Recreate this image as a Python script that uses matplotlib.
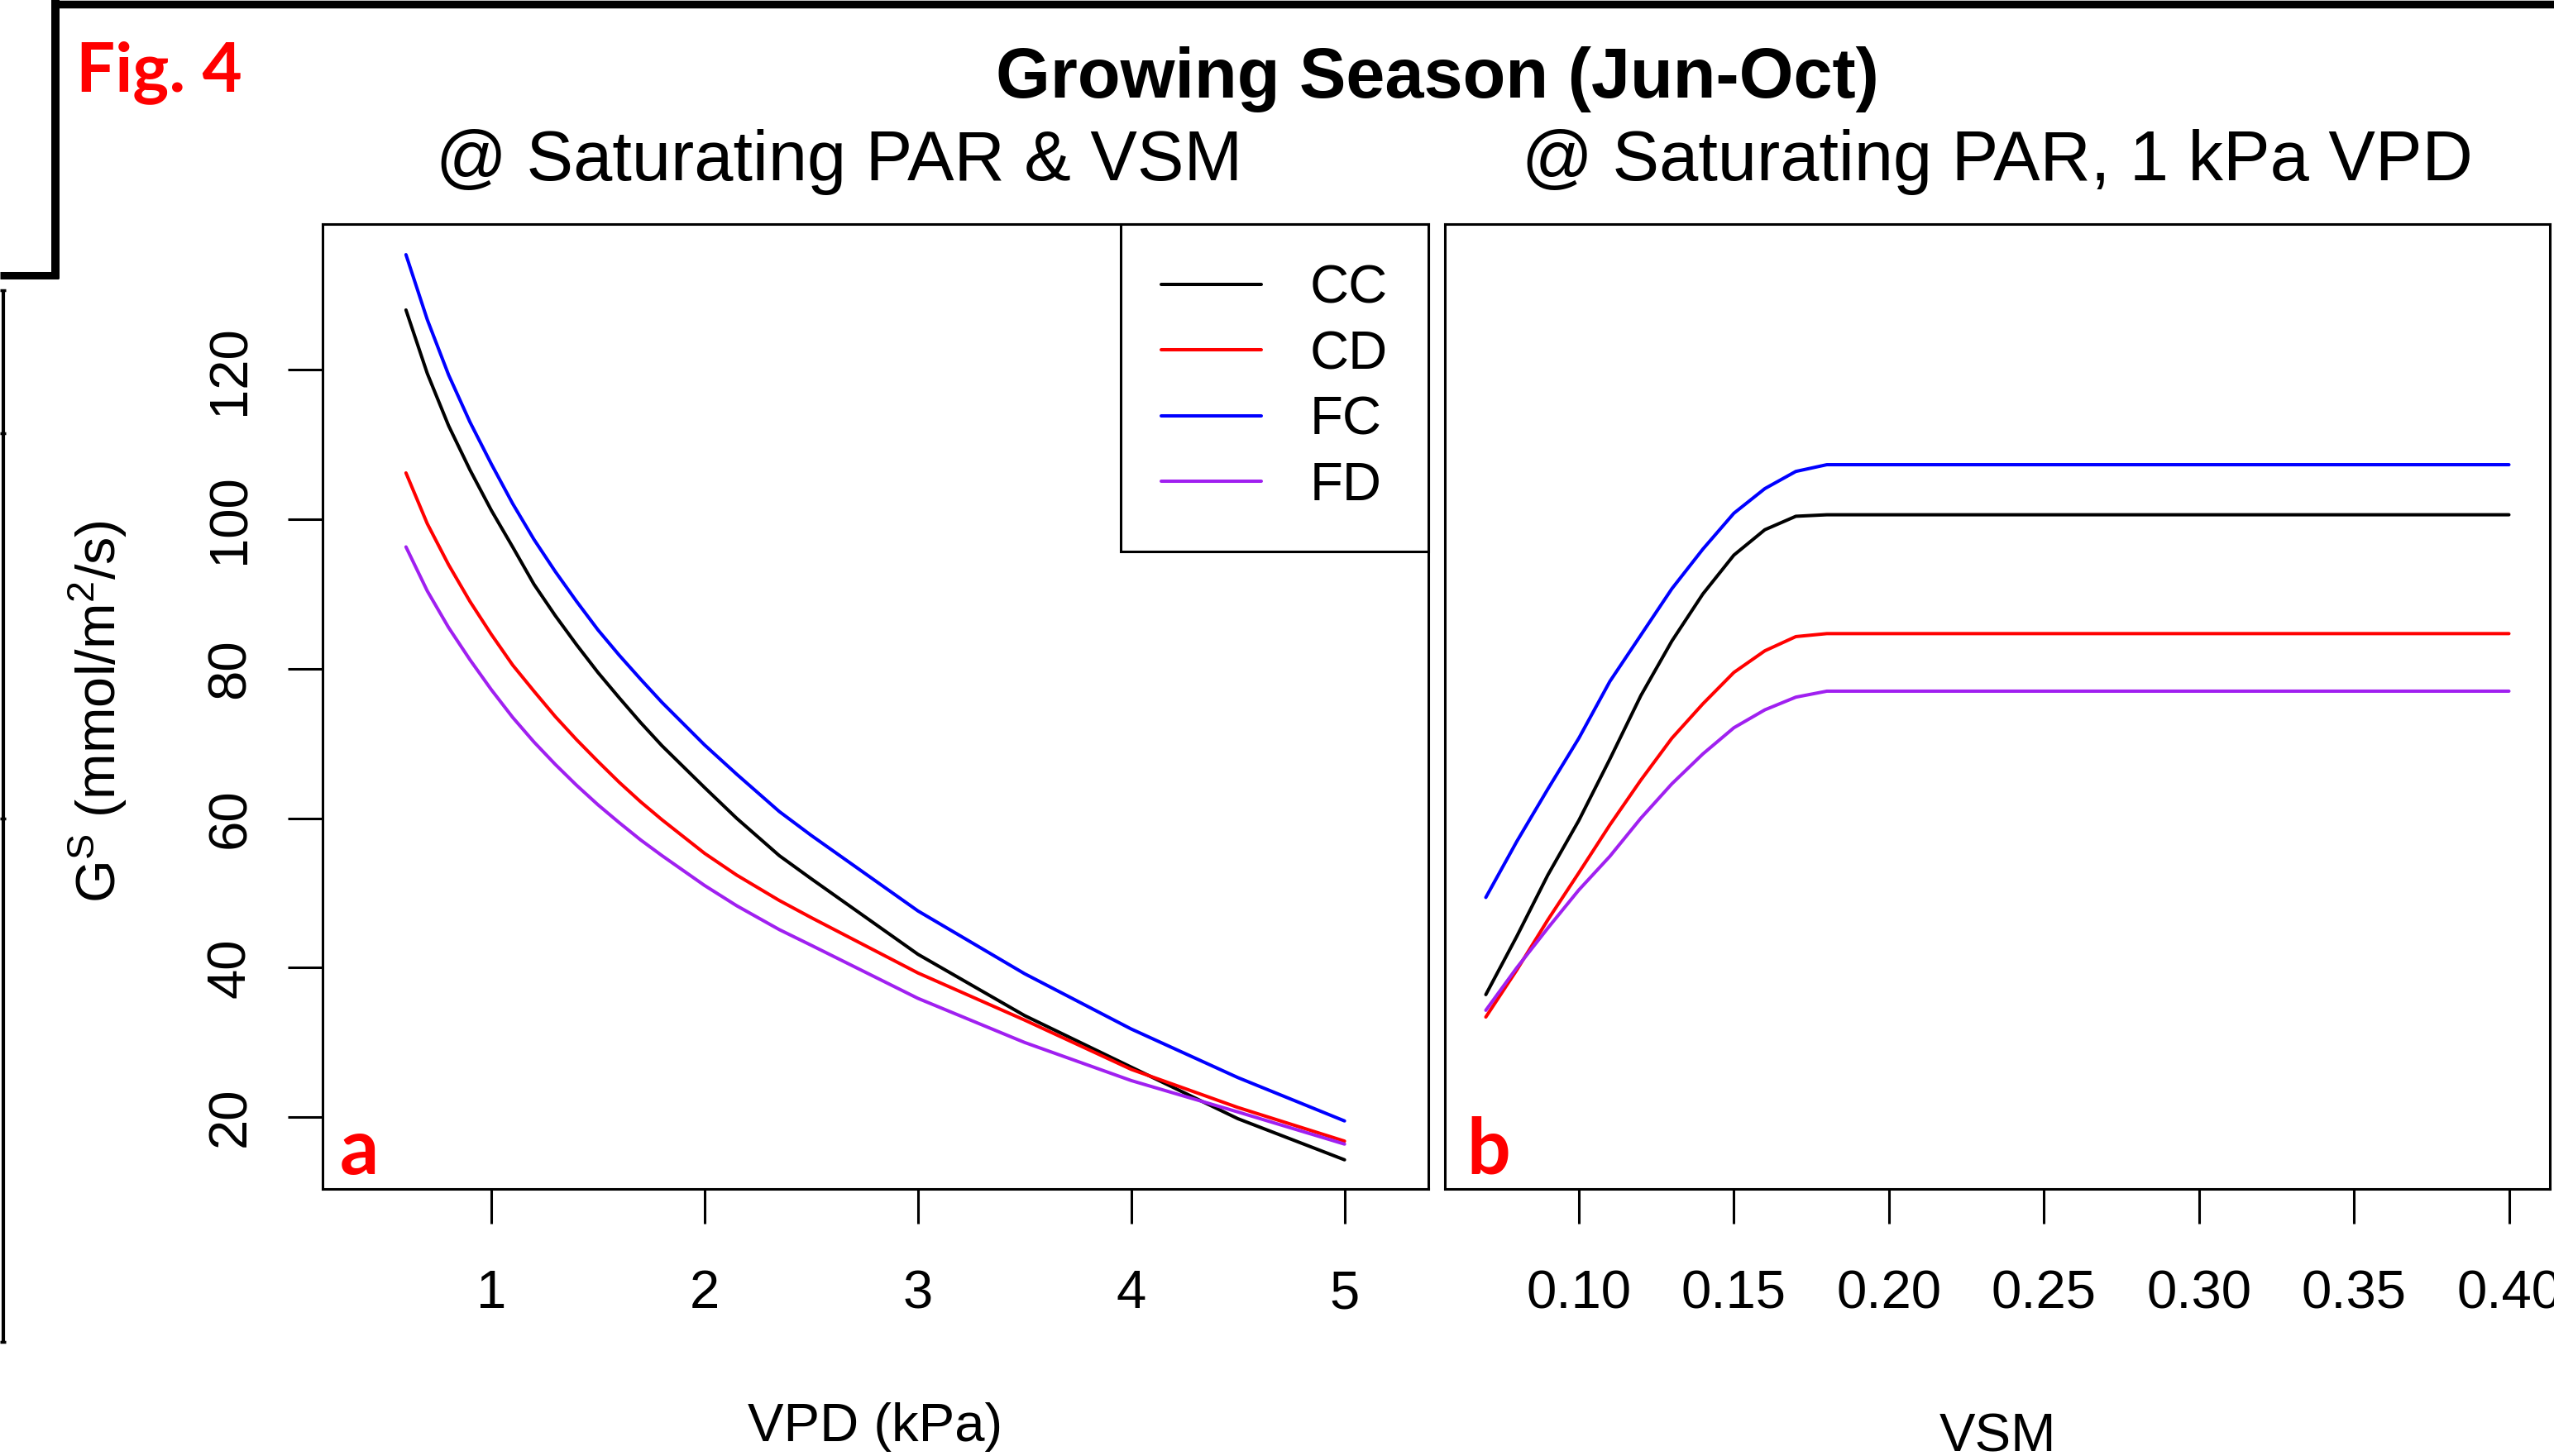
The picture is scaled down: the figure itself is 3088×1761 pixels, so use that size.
import matplotlib
matplotlib.use("Agg")
import matplotlib.pyplot as plt
from matplotlib.lines import Line2D

# ---------------- data ----------------
series_names = ["CC", "CD", "FC", "FD"]
series_colors = ["black", "#FF0000", "#0000FF", "#A020F0"]

# Panel a: Gs vs VPD (kPa)
vpd = [0.6, 0.7, 0.8, 0.9, 1.0, 1.1, 1.2, 1.3, 1.4, 1.5, 1.6, 1.7, 1.8,
       2.0, 2.15, 2.35, 2.5, 3.0, 3.5, 4.0, 4.5, 5.0]
gs_vpd_cc = [128.0, 119.5, 112.5, 106.6, 101.2, 96.3, 91.3, 87.1, 83.2, 79.5, 76.1, 72.8, 69.7,
             64.1, 60.0, 55.0, 51.9, 41.8, 33.6, 26.7, 19.8, 14.3]
gs_vpd_cd = [106.2, 99.4, 93.9, 89.0, 84.6, 80.5, 77.0, 73.6, 70.5, 67.6, 64.8, 62.2, 59.8,
             55.3, 52.4, 49.0, 46.7, 39.3, 33.0, 26.4, 21.3, 16.8]
gs_vpd_fc = [135.4, 126.7, 119.3, 113.0, 107.4, 102.1, 97.3, 93.0, 89.0, 85.2, 81.8, 78.6, 75.5,
             69.8, 65.9, 60.9, 57.7, 47.6, 39.2, 31.8, 25.3, 19.5]
gs_vpd_fd = [96.3, 90.4, 85.5, 81.2, 77.2, 73.5, 70.2, 67.2, 64.4, 61.8, 59.4, 57.1, 55.0,
             51.0, 48.3, 45.1, 43.0, 35.9, 30.0, 24.9, 20.7, 16.4]

# Panel b: Gs vs VSM
vsm = [0.07, 0.08, 0.09, 0.10, 0.11, 0.12, 0.13, 0.14, 0.15, 0.16, 0.17, 0.18, 0.40]
gs_vsm_cc = [36.4, 44.2, 52.4, 59.7, 67.9, 76.4, 83.7, 90.0, 95.2, 98.6, 100.4, 100.6, 100.6]
gs_vsm_cd = [33.4, 39.7, 46.4, 52.7, 59.1, 65.1, 70.7, 75.3, 79.5, 82.4, 84.3, 84.7, 84.7]
gs_vsm_fc = [49.4, 56.9, 63.9, 70.7, 78.3, 84.5, 90.7, 96.0, 100.8, 104.1, 106.4, 107.3, 107.3]
gs_vsm_fd = [34.3, 40.0, 45.3, 50.4, 54.9, 60.0, 64.6, 68.6, 72.1, 74.5, 76.2, 77.0, 77.0]

vpd_ticks = [1, 2, 3, 4, 5]
vsm_ticks = [0.10, 0.15, 0.20, 0.25, 0.30, 0.35, 0.40]
vsm_ticklabels = ["0.10", "0.15", "0.20", "0.25", "0.30", "0.35", "0.40"]
gs_ticks = [20, 40, 60, 80, 100, 120]

main_title = "Growing Season (Jun-Oct)"
title_a = "@ Saturating PAR & VSM"
title_b = "@ Saturating PAR, 1 kPa VPD"
xlabel_a = "VPD (kPa)"
xlabel_b = "VSM"
ylabel = r"G$^{\mathrm{S}}$ (mmol/m$^{2}$/s)"

# ---------------- style ----------------
plt.rcParams["font.family"] = ["Liberation Sans", "DejaVu Sans"]
plt.rcParams["mathtext.fontset"] = "custom"
plt.rcParams["mathtext.rm"] = "Liberation Sans"
plt.rcParams["mathtext.it"] = "Liberation Sans:italic"
plt.rcParams["mathtext.bf"] = "Liberation Sans:bold"
plt.rcParams["mathtext.default"] = "regular"

W, H = 3088, 1761
fig = plt.figure(figsize=(W / 100, H / 100), dpi=100)
fig.patch.set_facecolor("white")

def px(x0, y_top, x1, y_bottom):
    return [x0 / W, 1 - y_bottom / H, (x1 - x0) / W, (y_bottom - y_top) / H]

ax_a = fig.add_axes(px(389.5, 270.5, 1727, 1438))
ax_b = fig.add_axes(px(1747, 270.5, 3083, 1438))

LW_DATA = 2.9
LW_FRAME = 2.2
TICK_FS = 47
XLABEL_FS = 47
YLABEL_FS = 48
TITLE_FS = 61

vpd_series = [gs_vpd_cc, gs_vpd_cd, gs_vpd_fc, gs_vpd_fd]
vsm_series = [gs_vsm_cc, gs_vsm_cd, gs_vsm_fc, gs_vsm_fd]

for name, col, ys in zip(series_names, series_colors, vpd_series):
    ax_a.plot(vpd, ys, color=col, lw=LW_DATA, label=name, solid_capstyle="round",
              solid_joinstyle="round")
for name, col, ys in zip(series_names, series_colors, vsm_series):
    ax_b.plot(vsm, ys, color=col, lw=LW_DATA, label=name, solid_capstyle="round")

ylim = (10.4, 139.55)
ax_a.set_xlim(0.207, 5.393)
ax_b.set_xlim(0.0568, 0.4132)
for ax in (ax_a, ax_b):
    ax.set_ylim(*ylim)
    for sp in ax.spines.values():
        sp.set_linewidth(LW_FRAME)
        sp.set_color("black")
    ax.tick_params(axis="both", direction="out", length=30, width=LW_FRAME,
                   labelsize=TICK_FS, color="black")
    ax.tick_params(axis="x", pad=40)

ax_a.set_xticks(vpd_ticks)
ax_a.set_xticklabels([str(t) for t in vpd_ticks])
ax_b.set_xticks(vsm_ticks)
ax_b.set_xticklabels(vsm_ticklabels)

ax_a.set_yticks(gs_ticks)
ax_a.set_yticklabels([str(t) for t in gs_ticks], rotation=90, va="center")
ax_a.tick_params(axis="y", pad=28)
ax_b.set_yticks(gs_ticks)
ax_b.tick_params(axis="y", length=0, labelleft=False)

# axis labels
ax_a.set_xlabel(xlabel_a, fontsize=XLABEL_FS, va="baseline")
ax_a.xaxis.set_label_coords(0.5, (1438 - 1743) / (1438 - 270.5))
ax_b.set_xlabel(xlabel_b, fontsize=XLABEL_FS, va="baseline")
ax_b.xaxis.set_label_coords(0.5, (1438 - 1755) / (1438 - 270.5))
ax_a.set_ylabel(ylabel, fontsize=YLABEL_FS, va="baseline")
ax_a.yaxis.set_label_coords((140 - 389.5) / (1727 - 389.5), 0.495)

# legend
leg = ax_a.legend(loc="upper right", fontsize=47, frameon=True, fancybox=False,
                  edgecolor="black", framealpha=1, borderaxespad=0,
                  handlelength=1.85, handletextpad=0.9, borderpad=0.75,
                  labelspacing=0.3)
leg.get_frame().set_linewidth(LW_FRAME)
for lh in leg.get_lines():
    lh.set_linewidth(LW_DATA)

# panel letters
lato_bold = dict(family=["Lato", "DejaVu Sans"], fontweight="bold", color="#FF0000")
ax_a.text((411 - 389.5) / (1727 - 389.5), (1438 - 1420) / (1438 - 270.5), "a",
          transform=ax_a.transAxes, ha="left", va="baseline", fontsize=67, **lato_bold)
ax_b.text((1773 - 1747) / (3083 - 1747), (1438 - 1420) / (1438 - 270.5), "b",
          transform=ax_b.transAxes, ha="left", va="baseline", fontsize=67, **lato_bold)

# titles
fig.text(1737.5 / W, 1 - 118.3 / H, main_title, ha="center", va="baseline",
         fontsize=TITLE_FS, fontweight="bold")
fig.text(1015 / W, 1 - 218.3 / H, title_a, ha="center", va="baseline", fontsize=TITLE_FS)
fig.text(2414.5 / W, 1 - 218.3 / H, title_b, ha="center", va="baseline", fontsize=TITLE_FS)
fig.text(91.5 / W, 1 - 110 / H, "Fig. 4", ha="left", va="baseline", fontsize=60,
         **lato_bold)

# cropped frame decorations from the original figure page
def fline(xs, ys, lw):
    fig.add_artist(Line2D([x / W for x in xs], [1 - y / H for y in ys],
                          transform=fig.transFigure, color="black", lw=lw,
                          solid_capstyle="butt"))

fline([62, W], [4.5, 4.5], 6.8)
fline([66.5, 66.5], [0, 337], 7.2)
fline([0, 71], [332.5, 332.5], 6.5)
fline([4, 4], [351, 1623], 3.0)
for yy in (351, 524, 990, 1623):
    fline([0, 7], [yy, yy], 2.5)

fig.savefig("out.png", dpi=100, facecolor="white")
